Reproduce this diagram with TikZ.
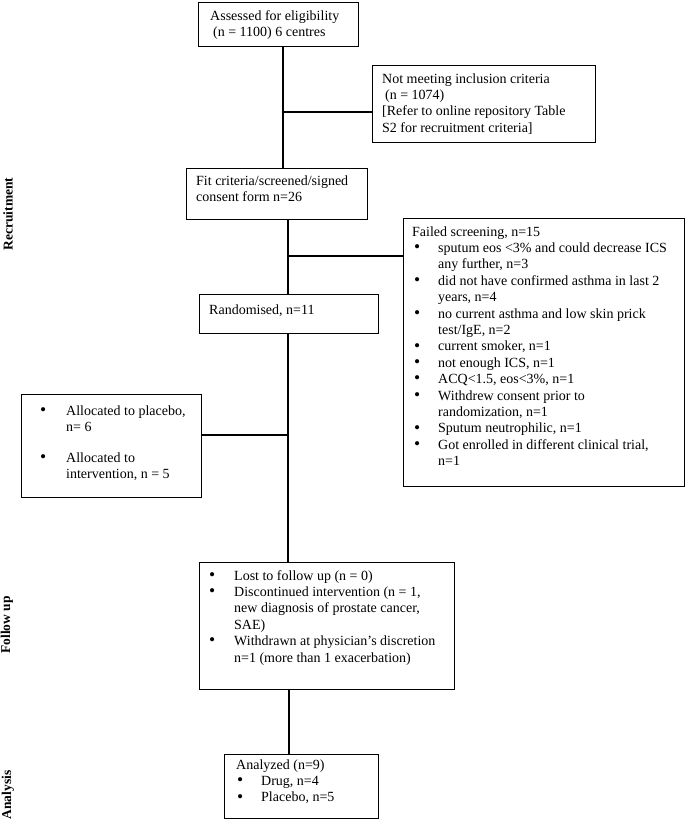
\documentclass[tikz,border=0pt]{standalone}
\usepackage{fontspec}
\setmainfont{Liberation Serif}
\newcommand\bul[2]{\hspace*{#1}\makebox[#2][l]{\raisebox{-0.2pt}{\scalebox{1.25}{\textbullet}}}}
\newcommand\ind[1]{\hspace*{#1}}
\begin{document}
\begin{tikzpicture}[x=1pt,y=-1pt,
 box/.style={draw, line width=1.2pt, inner sep=0pt, anchor=north west},
 txt/.style={inner sep=0pt, anchor=base west, font=\fontsize{14}{16.4}\selectfont},
 side/.style={inner sep=0pt, rotate=90, font=\fontsize{13.5}{15}\selectfont\bfseries},
 conn/.style={line width=1.2pt}]
\useasboundingbox (0,0) rectangle (685,825);

% boxes
\node[box, minimum width=160pt, minimum height=44.5pt] (assess) at (198,1.5) {};
\node[box, minimum width=223pt, minimum height=77pt] (notmeet) at (372,65) {};
\node[box, minimum width=181pt, minimum height=51pt] (fit) at (186,168) {};
\node[box, minimum width=179pt, minimum height=39pt] (rand) at (199,294) {};
\node[box, minimum width=281pt, minimum height=268pt] (failed) at (403,218) {};
\node[box, minimum width=180pt, minimum height=103pt] (alloc) at (21,394) {};
\node[box, minimum width=255pt, minimum height=127pt] (follow) at (199,562) {};
\node[box, minimum width=154pt, minimum height=64pt] (analysis) at (224,754) {};

% texts
\node[txt] (t1) at (210,20) {\begin{tabular}[t]{@{}l@{}}Assessed for eligibility\\ \ind{3pt}(n = 1100) 6 centres\end{tabular}};
\node[txt] (t2) at (382,83) {\begin{tabular}[t]{@{}l@{}}Not meeting inclusion criteria\\ \ind{3pt}(n = 1074)\\ {[}Refer to online repository Table\\ S2 for recruitment criteria]\end{tabular}};
\node[txt] (t3) at (196,185) {\begin{tabular}[t]{@{}l@{}}Fit criteria/screened/signed\\ consent form n=26\end{tabular}};
\node[txt] (t4) at (209,314) {Randomised, n=11};
\node[txt] (t5) at (412,236) {\begin{tabular}[t]{@{}l@{}}Failed screening, n=15\\
\bul{2pt}{24pt}sputum eos <3\% and could decrease ICS\\
\ind{26pt}any further, n=3\\
\bul{2pt}{24pt}did not have confirmed asthma in last 2\\
\ind{26pt}years, n=4\\
\bul{2pt}{24pt}no current asthma and low skin prick\\
\ind{26pt}test/IgE, n=2\\
\bul{2pt}{24pt}current smoker, n=1\\
\bul{2pt}{24pt}not enough ICS, n=1\\
\bul{2pt}{24pt}ACQ<1.5, eos<3\%, n=1\\
\bul{2pt}{24pt}Withdrew consent prior to\\
\ind{26pt}randomization, n=1\\
\bul{2pt}{24pt}Sputum neutrophilic, n=1\\
\bul{2pt}{24pt}Got enrolled in different clinical trial,\\
\ind{26pt}n=1\end{tabular}};
\node[txt] (t6) at (40,415) {\begin{tabular}[t]{@{}l@{}}\bul{0pt}{26pt}Allocated to placebo,\\
\ind{26pt}n= 6\\[14.6pt]
\bul{0pt}{26pt}Allocated to\\
\ind{26pt}intervention, n = 5\end{tabular}};
\node[txt] (t7) at (209,580) {\begin{tabular}[t]{@{}l@{}}\bul{0pt}{25pt}Lost to follow up (n = 0)\\
\bul{0pt}{25pt}Discontinued intervention (n = 1,\\
\ind{25pt}new diagnosis of prostate cancer,\\
\ind{25pt}SAE)\\
\bul{0pt}{25pt}Withdrawn at physician’s discretion\\
\ind{25pt}n=1 (more than 1 exacerbation)\end{tabular}};
\node[txt] (t8) at (236,769) {\begin{tabular}[t]{@{}l@{}}Analyzed (n=9)\\
\bul{1pt}{24pt}Drug, n=4\\
\bul{1pt}{24pt}Placebo, n=5\end{tabular}};

% side labels
\node[side] (s1) at (8,214) {Recruitment};
\node[side] (s2) at (7,625) {Follow up};
\node[side] (s3) at (8,795) {Analysis};

% connectors
\coordinate (v1) at (283,0);
\coordinate (v2) at (288,0);
\coordinate (v3) at (289,0);
\coordinate (j1) at (283,112);
\coordinate (j2) at (288,256);
\coordinate (j3) at (288,435);
\draw[conn] (assess.south -| v1) -- (fit.north -| v1);
\draw[conn] (j1) -- (j1 -| notmeet.west);
\draw[conn] (fit.south -| v2) -- (rand.north -| v2);
\draw[conn] (j2) -- (j2 -| failed.west);
\draw[conn] (rand.south -| v2) -- (follow.north -| v2);
\draw[conn] (j3) -- (j3 -| alloc.east);
\draw[conn] (follow.south -| v3) -- (analysis.north -| v3);
\end{tikzpicture}
\end{document}
